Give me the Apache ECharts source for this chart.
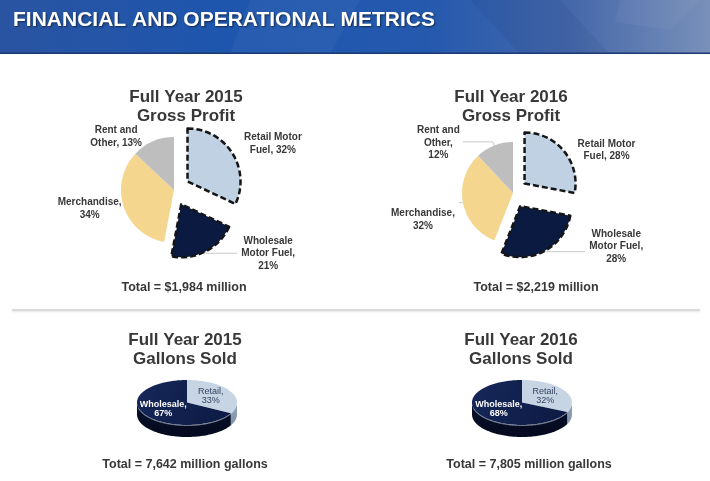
<!DOCTYPE html>
<html><head><meta charset="utf-8">
<script src="https://cdn.jsdelivr.net/npm/echarts@6/dist/echarts.min.js"></script>
<style>html,body{margin:0;padding:0;background:#fff}#c{width:710px;height:481px}</style>
</head><body><div id="c"></div>
<script>
// ---- data ----
const years = ['2015', '2016'];
const gpCategories = ['Retail Motor Fuel', 'Wholesale Motor Fuel', 'Merchandise', 'Rent and Other'];
const gp2015 = [32, 21, 34, 13];
const gp2016 = [28, 28, 32, 12];
const gpLabel2015 = ['Retail Motor\nFuel, {v}%', 'Wholesale\nMotor Fuel,\n{v}%', 'Merchandise,\n{v}%', 'Rent and\nOther, {v}%'];
const gpLabel2016 = ['Retail Motor\nFuel, {v}%', 'Wholesale\nMotor Fuel,\n{v}%', 'Merchandise,\n{v}%', 'Rent and\nOther,\n{v}%'];
const gpTotals = ['$1,984', '$2,219'];
const galCategories = ['Retail', 'Wholesale'];
const gal2015 = [33, 67];
const gal2016 = [32, 68];
const galTotals = ['7,642', '7,805'];

// ---- styles ----
const FONT = '"Liberation Sans", Arial, Helvetica, sans-serif';
const gpColors = ['#bfd1e3', '#0b1a40', '#f5d68e', '#bebebe'];
const galTop = ['#c6d4e3', '#0c1a42'];
const galSide = ['#93a6bc', '#07112c'];
const textColor = '#383838';

const tune2015 = { offset: 16, items: [
  { len: 8, len2: 1, show: false, dist: 4, dy: -5 },
  { len: 2, len2: 31, show: true, dist: 4, dy: 0 },
  { len: 1, len2: 0, show: false, dist: 1, dy: 2 },
  { len: 5, len2: 4, show: false, dist: 5, dy: 0 }
]};
const tune2016 = { offset: 15, items: [
  { len: 1, len2: 8, show: false, dist: 5, dy: 0 },
  { len: 1, len2: 40, show: true, dist: 4, dy: -5 },
  { len: 1, len2: 3, show: true, dist: 4, dy: 17 },
  { len: 4, len2: 30, show: true, dist: 3, dy: 1 }
]};

function richLines(txt) {
  return txt.split('\n').map(s => '{c|' + s + '}').join('\n');
}

function gpPie(values, labels, center, radius, tune) {
  return {
    type: 'pie', center: center, radius: radius, startAngle: 90, clockwise: true,
    selectedMode: 'multiple', selectedOffset: tune.offset, avoidLabelOverlap: false,
    animation: false, silent: true, emphasis: { disabled: true },
    label: {
      show: true, position: 'outside', color: textColor, fontFamily: FONT, fontWeight: 'bold', fontSize: 10, lineHeight: 12.5,
      rich: { c: { align: 'center', fontFamily: FONT, fontWeight: 'bold', fontSize: 10, lineHeight: 12.5, color: textColor } }
    },
    labelLine: { lineStyle: { color: '#c9c9c9', width: 1 } },
    labelLayout: function (p) {
      const d = tune.items[p.dataIndex].dy;
      return d ? { dy: d } : {};
    },
    data: values.map((v, i) => {
      const dashed = i < 2;
      const st = dashed
        ? { color: gpColors[i], borderColor: '#151515', borderWidth: 2.5, borderType: [6, 3] }
        : { color: gpColors[i], borderWidth: 0 };
      return {
        name: gpCategories[i], value: v, selected: dashed,
        itemStyle: st, select: { itemStyle: st },
        label: { formatter: richLines(labels[i].replace('{v}', v)), distanceToLabelLine: tune.items[i].dist },
        labelLine: { show: tune.items[i].show, length: tune.items[i].len, length2: tune.items[i].len2 }
      };
    })
  };
}

function gallonPie(values, geo) {
  const total = values.reduce((a, b) => a + b, 0);
  return {
    type: 'custom', coordinateSystem: 'none', silent: true, animation: false,
    data: values.map((v, i) => ({ name: galCategories[i], value: v })),
    renderItem: function (params, api) {
      const i = params.dataIndex;
      let acc = 0;
      for (let k = 0; k < i; k++) acc += values[k];
      const v = api.value(0);
      const a0 = acc / total * Math.PI * 2;
      const a1 = (acc + v) / total * Math.PI * 2;
      const P = (t, dy) => [geo.cx + geo.rx * Math.sin(t), geo.cy - geo.ry * Math.cos(t) + dy];
      const arc = (s, e, dy) => {
        const n = Math.max(2, Math.ceil((e - s) / 0.03));
        const pts = [];
        for (let j = 0; j <= n; j++) pts.push(P(s + (e - s) * j / n, dy));
        return pts;
      };
      const children = [];
      const s = Math.max(a0, Math.PI / 2), e = Math.min(a1, Math.PI * 1.5);
      if (e > s) {
        const top = arc(s, e, 0), bot = arc(s, e, geo.depth).reverse();
        children.push({ type: 'polygon', shape: { points: top.concat(bot) },
          style: { fill: new echarts.graphic.LinearGradient(0, 0, 0, 1, [
            { offset: 0, color: galSide[i] }, { offset: 1, color: i === 1 ? '#040a1e' : '#7f92a8' }]) } });
      }
      children.push({ type: 'polygon', shape: { points: [[geo.cx, geo.cy]].concat(arc(a0, a1, 0)) },
        style: { fill: i === 1 ? new echarts.graphic.LinearGradient(0, 0, 1, 1, [
          { offset: 0, color: '#16275a' }, { offset: 1, color: galTop[i] }]) : galTop[i] } });
      const hs = Math.max(a0, Math.PI * 0.62), he = Math.min(a1, Math.PI * 1.42);
      if (he > hs) {
        children.push({ type: 'polyline', shape: { points: arc(hs, he, 0.5) },
          style: { stroke: 'rgba(220,228,240,0.55)', lineWidth: 1, fill: null } });
      }
      const m = (a0 + a1) / 2;
      children.push({ type: 'text', x: geo.cx + 0.55 * geo.rx * Math.sin(m), y: geo.cy - 0.55 * geo.ry * Math.cos(m),
        style: { text: galCategories[i] + ',\n' + v + '%', align: 'center', verticalAlign: 'middle',
          font: (i === 1 ? 'bold ' : '') + '9px ' + FONT, lineHeight: 9, fill: i === 1 ? '#ffffff' : '#34435e' } });
      return { type: 'group', children: children };
    }
  };
}

function txt(str, x, y, size, lh) {
  return { type: 'text', x: x, y: y, silent: true,
    style: { text: str, align: 'center', verticalAlign: 'middle', font: 'bold ' + size + 'px ' + FONT, fill: textColor, lineHeight: lh || size + 2 } };
}

const chart = echarts.init(document.getElementById('c'), null, { renderer: 'canvas', width: 710, height: 481 });

const graphics = [
  { type: 'rect', shape: { x: 0, y: 0, width: 710, height: 54 }, silent: true, z: -10,
    style: { fill: new echarts.graphic.LinearGradient(0, 0, 1, 0, [
      { offset: 0, color: '#2a54a2' }, { offset: 0.3, color: '#1e56ad' }, { offset: 0.6, color: '#2459ae' },
      { offset: 0.8, color: '#4467aa' }, { offset: 1, color: '#7990b9' }]) } },
  { type: 'polygon', shape: { points: [[250, 0], [360, 0], [330, 54], [230, 54]] }, silent: true, z: -9, style: { fill: 'rgba(255,255,255,0.04)' } },
  { type: 'polygon', shape: { points: [[470, 0], [560, 0], [610, 54], [520, 54]] }, silent: true, z: -9, style: { fill: 'rgba(0,20,60,0.06)' } },
  { type: 'polygon', shape: { points: [[620, 0], [700, 0], [670, 30], [615, 22]] }, silent: true, z: -9, style: { fill: 'rgba(255,255,255,0.04)' } },
  { type: 'rect', shape: { x: 0, y: 52.5, width: 710, height: 1.5 }, silent: true, style: { fill: '#1c3a72' } },
  { type: 'text', x: 13, y: 20, silent: true,
    style: { text: 'FINANCIAL AND OPERATIONAL METRICS', align: 'left', verticalAlign: 'middle', font: 'bold 21px ' + FONT,
      fill: '#ffffff', textShadowColor: 'rgba(0,0,0,0.55)', textShadowBlur: 2, textShadowOffsetX: 1, textShadowOffsetY: 1 } },
  { type: 'line', shape: { x1: 12, y1: 310, x2: 700, y2: 310 }, silent: true,
    style: { stroke: '#d2d2d2', lineWidth: 1.5, shadowColor: 'rgba(0,0,0,0.15)', shadowBlur: 2, shadowOffsetY: 1 } },
  txt('Full Year ' + years[0] + '\nGross Profit', 186, 107, 17, 19),
  txt('Full Year ' + years[1] + '\nGross Profit', 511, 107, 17, 19),
  txt('Full Year ' + years[0] + '\nGallons Sold', 185, 350, 17, 19),
  txt('Full Year ' + years[1] + '\nGallons Sold', 521, 350, 17, 19),
  txt('Total = ' + gpTotals[0] + ' million', 184, 288, 12.5),
  txt('Total = ' + gpTotals[1] + ' million', 536, 288, 12.5),
  txt('Total = ' + galTotals[0] + ' million gallons', 185, 465, 12.5),
  txt('Total = ' + galTotals[1] + ' million gallons', 529, 465, 12.5)
];

chart.setOption({
  backgroundColor: '#ffffff',
  animation: false,
  graphic: graphics,
  series: [
    gpPie(gp2015, gpLabel2015, [174, 190], 53, tune2015),
    gpPie(gp2016, gpLabel2016, [513, 193], 51, tune2016),
    gallonPie(gal2015, { cx: 187, cy: 402.5, rx: 50, ry: 22.5, depth: 12 }),
    gallonPie(gal2016, { cx: 522, cy: 402.5, rx: 50, ry: 22.5, depth: 12 })
  ]
});
</script>
</body></html>
